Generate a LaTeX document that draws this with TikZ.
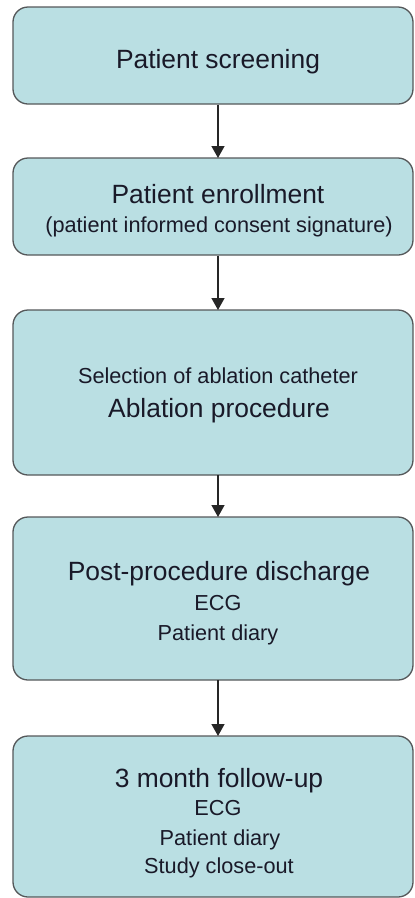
\documentclass[tikz,border=0pt]{standalone}
\usepackage{fontspec}
\setmainfont{Liberation Sans}
\usetikzlibrary{arrows.meta}
\definecolor{boxfill}{RGB}{186,223,227}
\definecolor{boxline}{RGB}{85,88,90}
\definecolor{txt}{RGB}{25,25,40}
\tikzset{
  stepbox/.style={draw=boxline, line width=1.3pt, fill=boxfill, rounded corners=15pt},
  big/.style={anchor=base, inner sep=0pt, text=txt, font=\fontsize{26.4}{30}\selectfont},
  small/.style={anchor=base, inner sep=0pt, text=txt, font=\fontsize{21.7}{26}\selectfont},
  flow/.style={draw=black!85, line width=1.4pt, -{Triangle[length=12pt,width=13pt]}}
}
\begin{document}
\begin{tikzpicture}[x=1pt,y=-1pt]
\useasboundingbox (0,0) rectangle (415,898);
% boxes
\node[stepbox, minimum width=400pt, minimum height=97pt, inner sep=0pt] (b1) at (213,55.5) {};
\node[stepbox, minimum width=400pt, minimum height=97pt, inner sep=0pt] (b2) at (213,206.5) {};
\node[stepbox, minimum width=400pt, minimum height=165pt, inner sep=0pt] (b3) at (213,392.5) {};
\node[stepbox, minimum width=400pt, minimum height=163pt, inner sep=0pt] (b4) at (213,598.5) {};
\node[stepbox, minimum width=400pt, minimum height=161pt, inner sep=0pt] (b5) at (213,816.5) {};
% arrows
\coordinate (a1s) at (218,104.5);
\coordinate (a1e) at (218,158);
\coordinate (a2s) at (218,255.5);
\coordinate (a2e) at (218,310);
\coordinate (a3s) at (218,475);
\coordinate (a3e) at (218,517);
\coordinate (a4s) at (218,680);
\coordinate (a4e) at (218,736);
\draw[flow] (a1s) -- (a1e);
\draw[flow] (a2s) -- (a2e);
\draw[flow] (a3s) -- (a3e);
\draw[flow] (a4s) -- (a4e);
% texts
\node[big] (t1) at (218,68) {Patient screening};
\node[big] (t2a) at (218,203) {Patient enrollment};
\node[small] (t2b) at (219,232) {(patient informed consent signature)};
\node[small] (t3a) at (218,383) {Selection of ablation catheter};
\node[big] (t3b) at (219,417) {Ablation procedure};
\node[big] (t4a) at (219,580) {Post-procedure discharge};
\node[small] (t4b) at (218,610) {ECG};
\node[small] (t4c) at (218,640) {Patient diary};
\node[big] (t5a) at (219,787) {3 month follow-up};
\node[small] (t5b) at (218,815) {ECG};
\node[small] (t5c) at (220,845) {Patient diary};
\node[small] (t5d) at (219,873) {Study close-out};
\end{tikzpicture}
\end{document}
